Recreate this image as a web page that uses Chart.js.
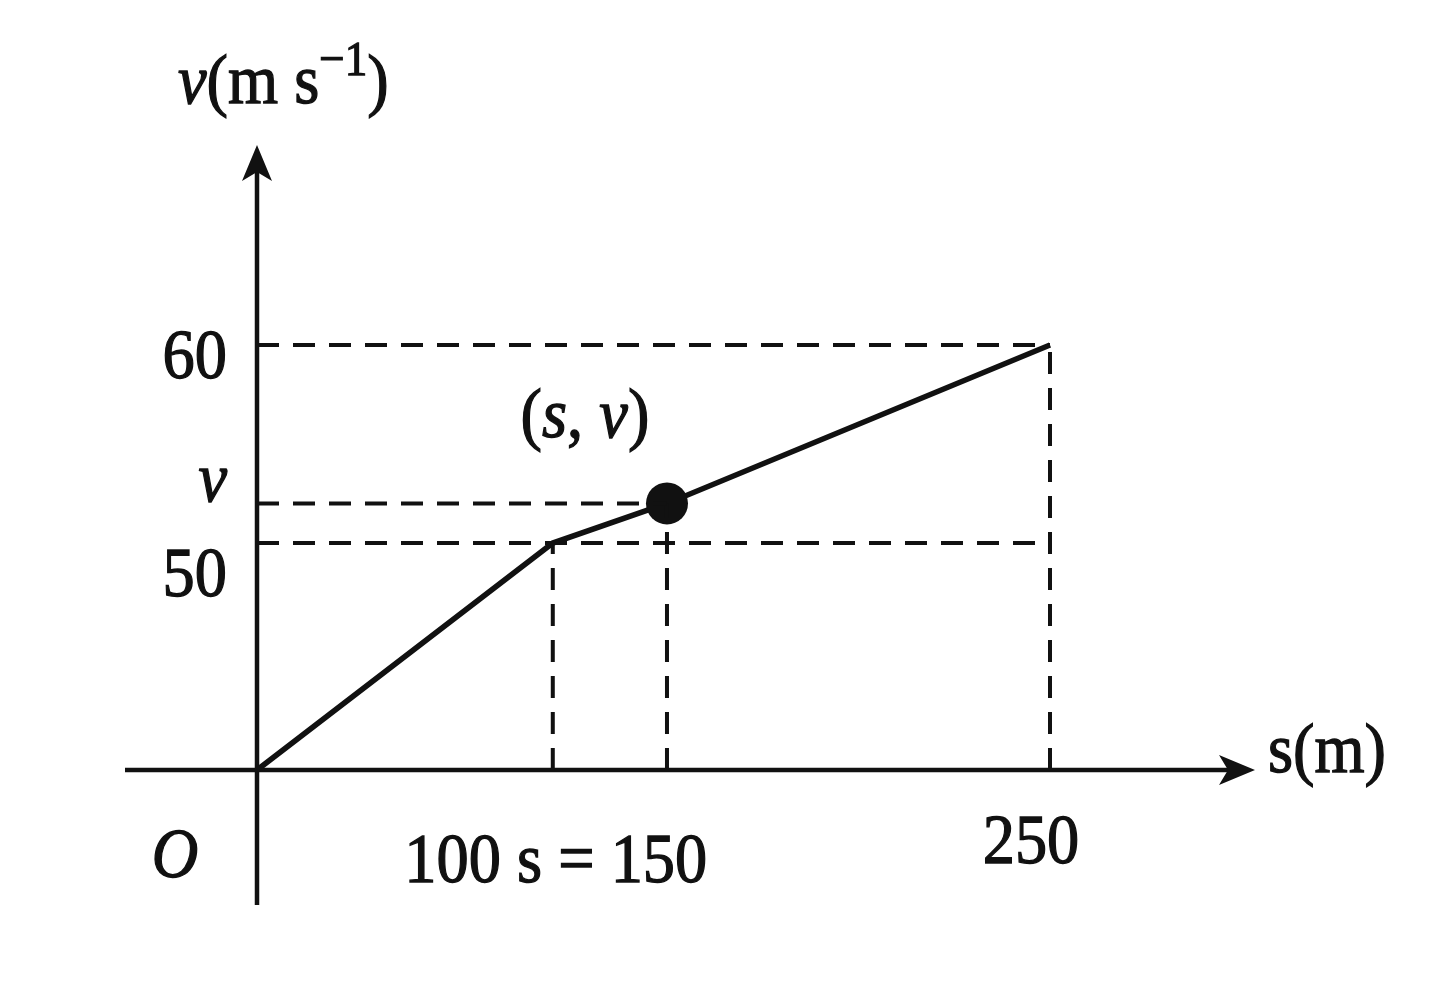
<!DOCTYPE html>
<html>
<head>
<meta charset="utf-8">
<script src="https://cdn.jsdelivr.net/npm/chart.js@4"></script>
<style>
  html, body { margin: 0; padding: 0; background: #fff; }
  #wrap { width: 1432px; height: 982px; }
</style>
</head>
<body>
<div id="wrap"><canvas id="vs" width="1432" height="982"></canvas></div>
<script>
// data
const sValues = [0, 100, 150, 250];   // displacement s (m)
const vValues = [0, 50, 52, 60];      // velocity v (m/s), v at s=150 unlabeled (~52)
const markIndex = 2;                   // the (s, v) point

const yTickValues = [60, 52, 50];
const yTickLabels = ["60", "v", "50"];
const xTickValues = [0, 100, 250];
const xTickLabels = ["O", "100 s = 150", "250"];

const INK = "#111";
const FONT = "Liberation Serif, 'Times New Roman', serif";

// the drawing is not to scale: piecewise scale (value -> fraction of axis)
const schematicStops = {
    x: [[0, 0], [100, 0.373], [150, 0.517], [250, 1]],
    y: [[0, 0], [50, 0.534], [60, 1]]
};

class SchematicScale extends Chart.LinearScale {
    fractionFor(value) {
        const st = schematicStops[this.id];
        for (let i = 1; i < st.length; i++) {
            if (value <= st[i][0] || i === st.length - 1) {
                const [v0, f0] = st[i - 1], [v1, f1] = st[i];
                return f0 + (value - v0) / (v1 - v0) * (f1 - f0);
            }
        }
        return 0;
    }
    getPixelForValue(value) {
        if (value === null || isNaN(value)) return NaN;
        return this.getPixelForDecimal(this.fractionFor(value));
    }
}
SchematicScale.id = "schematic";
SchematicScale.defaults = Chart.LinearScale.defaults;
Chart.register(SchematicScale);

// dashed guide lines built from the data
const guideSets = [];
// horizontal: 60 and 50 run to s=250, v runs to the point
[[vValues[3], sValues[3]], [vValues[markIndex], sValues[markIndex]], [vValues[1], sValues[3]]].forEach(([v, s]) => {
    guideSets.push([{x: 0, y: v}, {x: s, y: v}]);
});
// vertical drops
[[sValues[1], vValues[1]], [sValues[markIndex], vValues[markIndex]], [sValues[3], vValues[3]]].forEach(([s, v]) => {
    guideSets.push([{x: s, y: 0}, {x: s, y: v}]);
});

const datasets = guideSets.map(pts => ({
    data: pts,
    borderColor: INK,
    borderWidth: 4,
    borderDash: [22, 14],
    pointRadius: 0,
    clip: false
}));
datasets.push({
    data: sValues.map((s, i) => ({x: s, y: vValues[i]})),
    borderColor: INK,
    borderWidth: 5.5,
    pointRadius: sValues.map((s, i) => i === markIndex ? 21 : 0),
    pointBackgroundColor: INK,
    pointBorderWidth: 0,
    clip: false
});

// mixed italic / upright text, squeezed a little like the scanned font
function drawRuns(ctx, runs, x, y, align, size) {
    const sx = 0.92;
    ctx.save();
    ctx.translate(x, y);
    ctx.scale(sx, 1);
    ctx.fillStyle = INK;
    ctx.strokeStyle = INK;
    ctx.lineWidth = 1.3;
    ctx.textBaseline = "alphabetic";
    ctx.textAlign = "left";
    const fontOf = r => (r.it ? "italic " : "") + Math.round(r.sup ? size * 0.7 : size) + "px " + FONT;
    let w = 0;
    runs.forEach(r => { ctx.font = fontOf(r); w += ctx.measureText(r.t).width; });
    let cx = align === "right" ? -w : align === "center" ? -w / 2 : 0;
    runs.forEach(r => {
        ctx.font = fontOf(r);
        const dy = r.sup ? -size * 0.4 : 0;
        ctx.fillText(r.t, cx, dy);
        ctx.strokeText(r.t, cx, dy);
        cx += ctx.measureText(r.t).width;
    });
    ctx.restore();
}

function arrow(ctx, tx, ty, dir) {
    // dir: "up" or "right"; notched arrow head
    ctx.save();
    ctx.translate(tx, ty);
    if (dir === "up") ctx.rotate(-Math.PI / 2);
    ctx.beginPath();
    ctx.moveTo(0, 0);
    ctx.lineTo(-36, -15);
    ctx.lineTo(-27, 0);
    ctx.lineTo(-36, 15);
    ctx.closePath();
    ctx.fillStyle = INK;
    ctx.fill();
    ctx.restore();
}

const axesPlugin = {
    id: "axesPlugin",
    beforeDatasetsDraw(chart) {
        const {ctx, scales: {x, y}} = chart;
        const x0 = x.getPixelForValue(0), y0 = y.getPixelForValue(0);
        ctx.save();
        ctx.strokeStyle = INK;
        ctx.lineWidth = 4.5;
        ctx.beginPath();
        ctx.moveTo(x0, y0 + 135);
        ctx.lineTo(x0, y.top - 175);
        ctx.moveTo(x0 - 132, y0);
        ctx.lineTo(x.right + 180, y0);
        ctx.stroke();
        arrow(ctx, x0, y.top - 200, "up");
        arrow(ctx, x.right + 205, y0, "right");
        ctx.restore();
    },
    afterDraw(chart) {
        const {ctx, scales: {x, y}} = chart;
        const x0 = x.getPixelForValue(0), y0 = y.getPixelForValue(0);
        const S = 70;
        // axis titles
        drawRuns(ctx, [{t: "v", it: true}, {t: "(m s"}, {t: "\u22121", sup: true}, {t: ")"}], x0 - 79, y.top - 242, "left", S);
        drawRuns(ctx, [{t: "s(m)"}], x.right + 218, y0 + 2, "left", S);
        // y tick labels
        const yDy = [33, -2, 53];
        yTickValues.forEach((v, i) => {
            drawRuns(ctx, [{t: yTickLabels[i], it: yTickLabels[i] === "v"}], x0 - 30, y.getPixelForValue(v) + yDy[i], "right", S);
        });
        // x tick labels
        const xDx = [-82, 3, -19];
        const xDy = [107, 112, 93];
        xTickValues.forEach((s, i) => {
            drawRuns(ctx, [{t: xTickLabels[i], it: xTickLabels[i] === "O"}], x.getPixelForValue(s) + xDx[i], y0 + xDy[i], "center", S);
        });
        // point label
        drawRuns(ctx, [{t: "("}, {t: "s", it: true}, {t: ", "}, {t: "v", it: true}, {t: ")"}],
            x.getPixelForValue(sValues[markIndex]) - 82, y.getPixelForValue(vValues[markIndex]) - 66, "center", S);
    }
};

new Chart(document.getElementById("vs").getContext("2d"), {
    type: "line",
    data: {datasets: datasets},
    options: {
        responsive: false,
        animation: false,
        layout: {padding: {left: 257, right: 382, top: 345, bottom: 212}},
        plugins: {legend: {display: false}, tooltip: {enabled: false}},
        events: [],
        scales: {
            x: {type: "schematic", min: 0, max: 250, display: false},
            y: {type: "schematic", min: 0, max: 60, display: false}
        }
    },
    plugins: [axesPlugin]
});
</script>
</body>
</html>
